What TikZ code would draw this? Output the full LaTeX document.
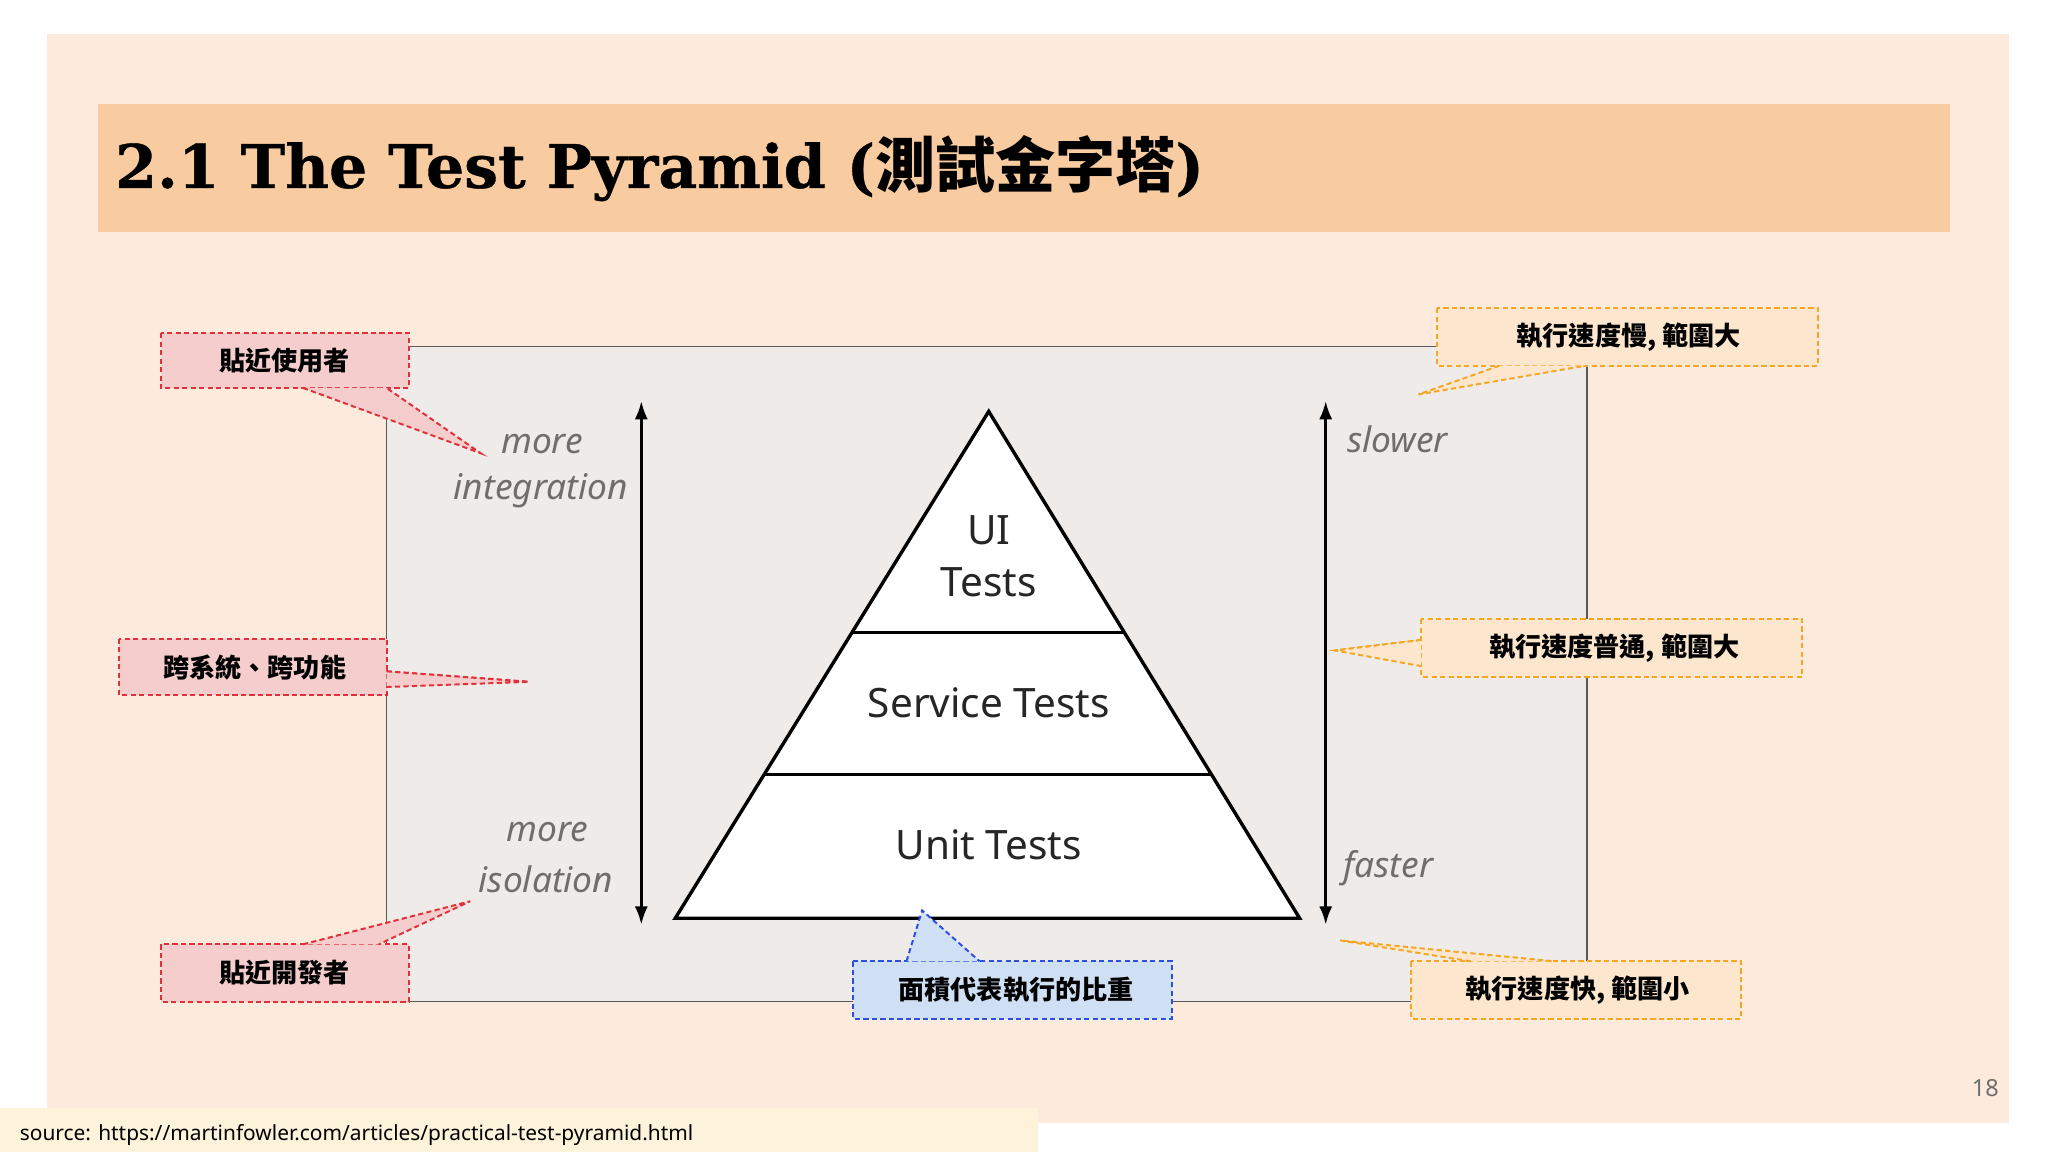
\documentclass[tikz,border=0pt]{standalone}
\usetikzlibrary{arrows.meta}
\usepackage{fontspec}
\setmainfont{Noto Sans}
\newfontfamily\cjk{Noto Sans CJK TC}
\newfontfamily\titlef{DejaVu Serif}
\definecolor{slide}{HTML}{FCEBDC}
\definecolor{band}{HTML}{F8CBA0}
\definecolor{frameg}{HTML}{EFEBE9}
\definecolor{footc}{HTML}{FDF3DA}
\definecolor{redb}{HTML}{E0303A}\definecolor{redf}{HTML}{F6CDCD}
\definecolor{blueb}{HTML}{2B50E0}\definecolor{bluef}{HTML}{CFE0F5}
\definecolor{orab}{HTML}{F5A623}\definecolor{oraf}{HTML}{FCE6CE}
\definecolor{lbl}{HTML}{6E6E6E}
\tikzset{
 callout/.style={font=\cjk\bfseries\fontsize{20}{23}\selectfont, text=black, inner sep=0pt, anchor=center},
 side/.style={font=\itshape\fontsize{27}{30}\selectfont, text=lbl, inner sep=0pt},
 pyr/.style={font=\fontsize{31}{34}\selectfont, text=black!85, inner sep=0pt},
 dblarrow/.style={line width=2.2pt, {Latex[length=14pt,width=10pt]}-{Latex[length=14pt,width=10pt]}},
 cdash/.style={dash pattern=on 4pt off 2.5pt, line width=1.5pt},
}
% #1 name, #2-#5 rect, #6 #7 base x's, #8 #9 tip ; base y = \basey
\newcommand{\mycallout}[9]{%
 \fill[\cf] (#2,#3) rectangle (#4,#5);
 \draw[\cb, cdash] (#2,#3) rectangle (#4,#5);
 \fill[\cf] (#6,\basey) -- (#8,#9) -- (#7,\basey) -- cycle;
 \coordinate (#1) at (#8,#9);
 \draw[\cb, cdash] (#6,\basey) -- (#1) -- (#7,\basey);
}
\begin{document}
\begin{tikzpicture}[x=1pt,y=-1pt]
\useasboundingbox (0,0) rectangle (1568,882);
\fill[white] (0,0) rectangle (1568,882);
\fill[slide] (36,26) rectangle (1538,860);
\fill[band] (75,80) rectangle (1493,178);
\node[anchor=west, inner sep=0pt, font=\titlef\bfseries\fontsize{46}{50}\selectfont] (title) at (88,129) {\addfontfeature{FakeBold=0.6}2.1 The Test Pyramid ({\cjk\bfseries 測試金字塔})};
\draw[gray!70!black, fill=frameg, line width=0.9pt] (296,265) rectangle (1215,767);
\coordinate (apex) at (757,315); \coordinate (bl) at (517,703); \coordinate (br) at (995,703);
\draw[fill=white, line width=2.6pt, line join=miter] (apex) -- (br) -- (bl) -- cycle;
\draw[line width=2.2pt] (653,484) -- (860,484);
\draw[line width=2.2pt] (586,593) -- (928,593);
\node[pyr] (ui) at (757,406) {UI};
\node[pyr] (uit) at (757,446) {Tests};
\node[pyr] (svc) at (757,538) {Service Tests};
\node[pyr] (unit) at (757,647) {Unit Tests};
\coordinate (la1) at (491,307); \coordinate (la2) at (491,708);
\draw[dblarrow] (la1) -- (la2);
\coordinate (ra1) at (1015,307); \coordinate (ra2) at (1015,708);
\draw[dblarrow] (ra1) -- (ra2);
\node[side] (m1) at (415,340) {more};
\node[side] (integ) at (414,376) {integration};
\node[side] (m2) at (419,637) {more};
\node[side] (iso) at (418,673) {isolation};
\node[side] (slow) at (1070,336) {slower};
\node[side] (fast) at (1063,665) {faster};
\def\cb{redb}\def\cf{redf}
\def\basey{297}
\mycallout{t1}{123}{255}{313}{297}{232}{296}{368}{347}
\node[callout] (c1) at (218,276) {貼近使用者};
\def\basey{514}
\mycallout{t2}{91}{489}{296}{532}{296}{296}{405}{522}
\fill[\cf] (296,514) -- (405,522) -- (296,526) -- cycle;
\draw[\cb, cdash] (296,514) -- (t2) -- (296,526);
\node[callout] (c2) at (195,511) {跨系統、跨功能};
\def\basey{723}
\mycallout{t3}{123}{723}{313}{767}{232}{290}{360}{690}
\node[callout] (c3) at (218,745) {貼近開發者};
\def\cb{blueb}\def\cf{bluef}
\def\basey{736}
\mycallout{t4}{653}{736}{897}{780}{694}{750}{706}{697}
\node[callout] (c4) at (778,758) {面積代表執行的比重};
\def\cb{orab}\def\cf{oraf}
\def\basey{280}
\mycallout{t5}{1100}{236}{1392}{280}{1148}{1214}{1086}{302}
\node[callout] (c5) at (1247,258) {執行速度慢, 範圍大};
\def\basey{490}
\mycallout{t6}{1088}{474}{1380}{518}{1088}{1088}{1022}{498}
\fill[\cf] (1088,490) -- (1022,498) -- (1088,510) -- cycle;
\draw[\cb, cdash] (1088,490) -- (t6) -- (1088,510);
\node[callout] (c6) at (1236,496) {執行速度普通, 範圍大};
\def\basey{736}
\mycallout{t7}{1080}{736}{1333}{780}{1126}{1190}{1026}{720}
\node[callout] (c7) at (1208,758) {執行速度快, 範圍小};
\fill[footc] (0,848) rectangle (795,882);
\node[anchor=west, inner sep=0pt, font=\fontsize{16}{18}\selectfont] (src) at (15,869) {source: https://martinfowler.com/articles/practical-test-pyramid.html};
\node[inner sep=0pt, text=lbl, font=\fontsize{18}{20}\selectfont] (pg) at (1520,833) {18};
\end{tikzpicture}
\end{document}
